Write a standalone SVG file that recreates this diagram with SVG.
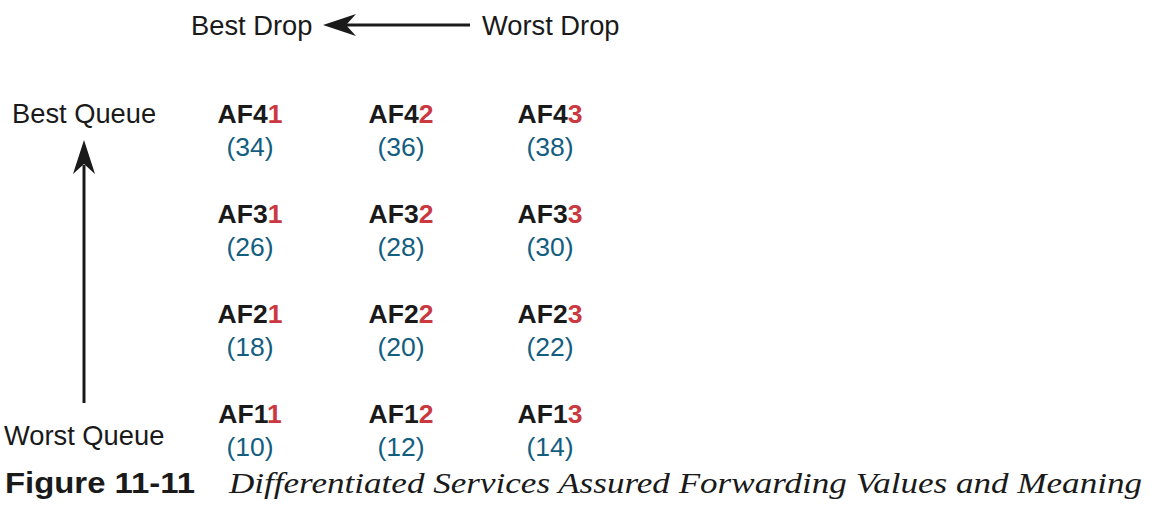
<svg xmlns="http://www.w3.org/2000/svg" width="1157" height="518" viewBox="0 0 1157 518">
<style>
.lbl{font-family:"Liberation Sans",Arial,sans-serif;font-size:27.3px;fill:#1a1a1a}
.af{font-family:"Liberation Sans",Arial,sans-serif;font-size:26.5px;font-weight:bold;fill:#1a1a1a;text-anchor:middle}
.af tspan{fill:#c9393f}
.num{font-family:"Liberation Sans",Arial,sans-serif;font-size:26.5px;fill:#135d7f;text-anchor:middle}
.line{stroke:#1a1a1a;stroke-width:3;fill:none}
.head{fill:#1a1a1a}
</style>
<rect width="1157" height="518" fill="#ffffff"/>
<g id="connectors">
<line class="line" x1="470" y1="25" x2="345" y2="25"/>
<path class="head" d="M323,25 L356,14 L346,25 L356,36 Z"/>
<line class="line" x1="84" y1="403" x2="84" y2="165"/>
<path class="head" d="M84,140 L95,174 L84,164 L73,174 Z"/>
</g>
<g id="best-drop"><text class="lbl" x="191" y="35">Best Drop</text></g>
<g id="worst-drop"><text class="lbl" x="482" y="35">Worst Drop</text></g>
<g id="best-queue"><text class="lbl" x="12" y="123">Best Queue</text></g>
<g id="worst-queue"><text class="lbl" x="4" y="445">Worst Queue</text></g>
<g id="af41"><text class="af" x="250" y="123">AF4<tspan>1</tspan></text><text class="num" x="250" y="156">(34)</text></g>
<g id="af42"><text class="af" x="401" y="123">AF4<tspan>2</tspan></text><text class="num" x="401" y="156">(36)</text></g>
<g id="af43"><text class="af" x="550" y="123">AF4<tspan>3</tspan></text><text class="num" x="550" y="156">(38)</text></g>
<g id="af31"><text class="af" x="250" y="223">AF3<tspan>1</tspan></text><text class="num" x="250" y="256">(26)</text></g>
<g id="af32"><text class="af" x="401" y="223">AF3<tspan>2</tspan></text><text class="num" x="401" y="256">(28)</text></g>
<g id="af33"><text class="af" x="550" y="223">AF3<tspan>3</tspan></text><text class="num" x="550" y="256">(30)</text></g>
<g id="af21"><text class="af" x="250" y="323">AF2<tspan>1</tspan></text><text class="num" x="250" y="356">(18)</text></g>
<g id="af22"><text class="af" x="401" y="323">AF2<tspan>2</tspan></text><text class="num" x="401" y="356">(20)</text></g>
<g id="af23"><text class="af" x="550" y="323">AF2<tspan>3</tspan></text><text class="num" x="550" y="356">(22)</text></g>
<g id="af11"><text class="af" x="250" y="423">AF1<tspan>1</tspan></text><text class="num" x="250" y="456">(10)</text></g>
<g id="af12"><text class="af" x="401" y="423">AF1<tspan>2</tspan></text><text class="num" x="401" y="456">(12)</text></g>
<g id="af13"><text class="af" x="550" y="423">AF1<tspan>3</tspan></text><text class="num" x="550" y="456">(14)</text></g>
<g id="caption">
<text x="5" y="493" font-family="'Liberation Sans',Arial,sans-serif" font-size="29" font-weight="bold" fill="#1a1a1a" textLength="190" lengthAdjust="spacingAndGlyphs">Figure 11-11</text>
<text x="229" y="493" font-family="'Liberation Serif','Times New Roman',serif" font-size="30" font-style="italic" fill="#1a1a1a" textLength="913" lengthAdjust="spacingAndGlyphs">Differentiated Services Assured Forwarding Values and Meaning</text>
</g>
</svg>
